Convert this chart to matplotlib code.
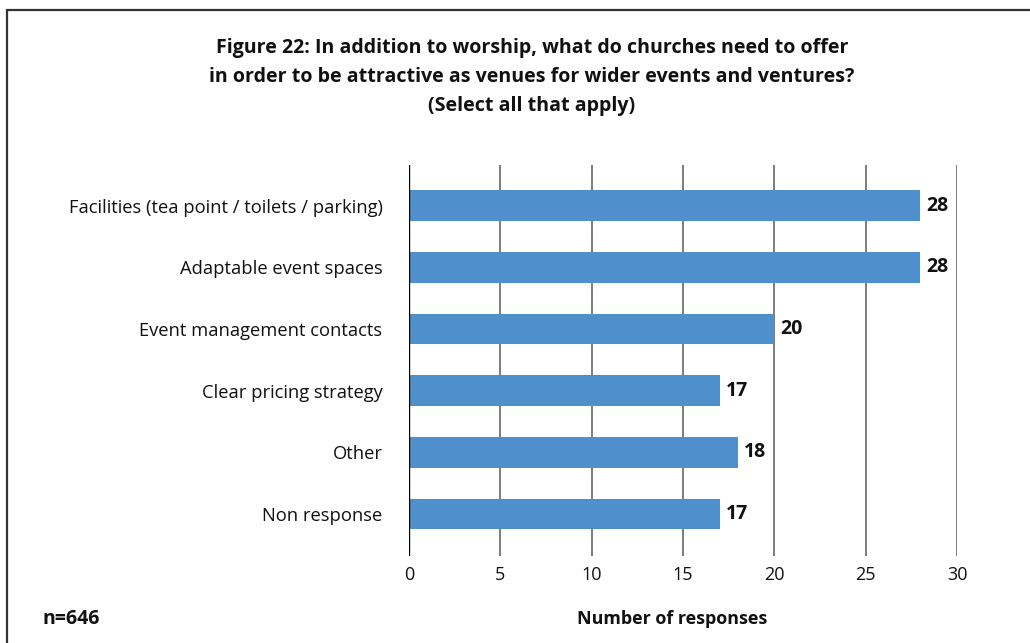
import matplotlib
matplotlib.use("Agg")
import matplotlib.pyplot as plt
from matplotlib.patches import Rectangle

categories = ["Facilities (tea point / toilets / parking)", "Adaptable event spaces",
              "Event management contacts", "Clear pricing strategy", "Other", "Non response"]
values = [28, 28, 20, 17, 18, 17]
xticks = [0, 5, 10, 15, 20, 25, 30]
title = ("Figure 22: In addition to worship, what do churches need to offer\n"
         "in order to be attractive as venues for wider events and ventures?\n"
         "(Select all that apply)")

plt.rcParams['font.family'] = ['Open Sans', 'DejaVu Sans']

W, H = 1030, 643
fig = plt.figure(figsize=(W / 100, H / 100), dpi=100)

# frame border (top and left visible)
fig.patches.append(Rectangle((7 / W, -0.1), 1.2, 1 - 10 / H + 0.1, transform=fig.transFigure,
                             fill=False, edgecolor='#333333', linewidth=1.6))

left, right, top, bottom = 409 / W, 957 / W, 1 - 165 / H, 1 - 556 / H
ax = fig.add_axes([left, bottom, right - left, top - bottom])

ypos = list(range(len(categories)))
ax.barh(ypos, values, height=0.5, color='#4f8fcc', zorder=3)
for y, v in zip(ypos, values):
    ax.annotate(str(v), (v, y), xytext=(4.5, 0), textcoords='offset points',
                va='center', ha='left', fontsize=14, fontweight='bold', color='#111111')

ax.set_xlim(0, 30)
ax.set_ylim(len(categories) - 0.32, -0.66)
ax.set_xticks(xticks)
ax.set_xticklabels([str(t) for t in xticks], fontsize=13, color='#111111')
ax.set_yticks(ypos)
ax.set_yticklabels(categories, fontsize=13.2, color='#111111')
ax.tick_params(length=0, pad=7)
ax.tick_params(axis='y', pad=19)
for s in ax.spines.values():
    s.set_visible(False)
ax.axvline(0, color='black', linewidth=1.0, zorder=4)
for t in xticks[1:]:
    ax.axvline(t, color='#666666', linewidth=1.2, zorder=1)

fig.text(532 / W, 1 - 76.5 / H, title, ha='center', va='center', fontsize=14.1,
         fontweight='bold', linespacing=1.6, color='#111111')
fig.text(42 / W, 1 - 619 / H, "n=646", ha='left', va='center', fontsize=14, fontweight='bold', color='#111111')
fig.text(672 / W, 1 - 619 / H, "Number of responses", ha='center', va='center', fontsize=12.9,
         fontweight='bold', color='#111111')

fig.savefig("out.png", dpi=100, facecolor='white')
